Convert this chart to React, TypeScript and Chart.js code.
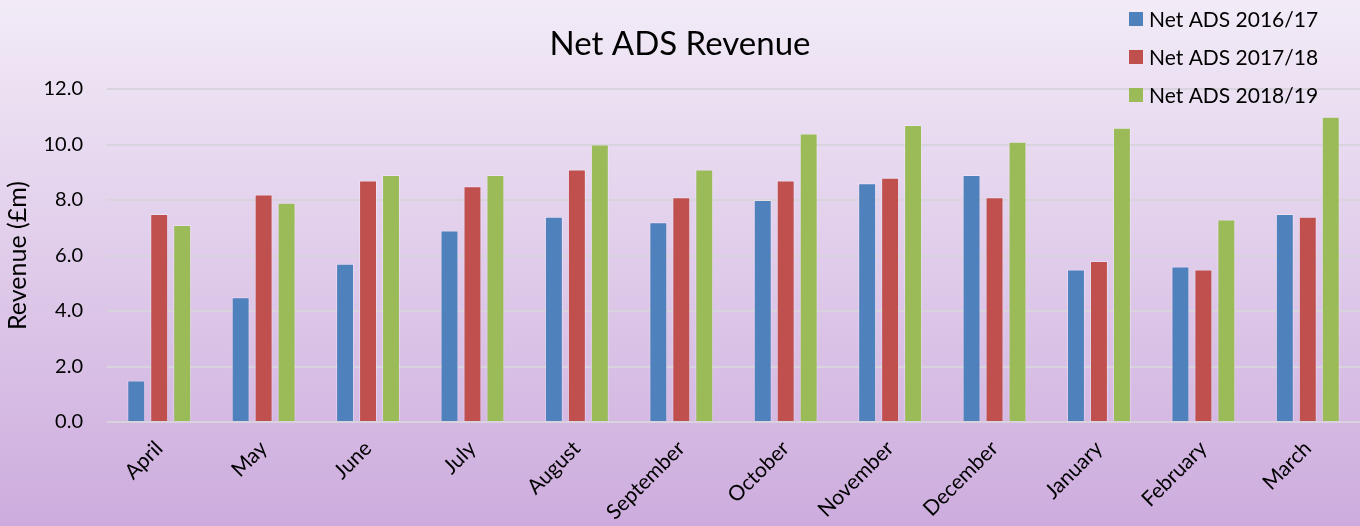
import React, { useEffect, useRef } from "react";
import { Chart, registerables } from "chart.js";

Chart.register(...registerables);

const categories = ["April", "May", "June", "July", "August", "September", "October", "November", "December", "January", "February", "March"];
const series2016 = [1.5, 4.5, 5.7, 6.9, 7.4, 7.2, 8.0, 8.6, 8.9, 5.5, 5.6, 7.5];
const series2017 = [7.5, 8.2, 8.7, 8.5, 9.1, 8.1, 8.7, 8.8, 8.1, 5.8, 5.5, 7.4];
const series2018 = [7.1, 7.9, 8.9, 8.9, 10.0, 9.1, 10.4, 10.7, 10.1, 10.6, 7.3, 11.0];
const seriesNames = ["Net ADS 2016/17", "Net ADS 2017/18", "Net ADS 2018/19"];
const seriesColors = ["#4F81BD", "#C0504D", "#9BBB59"];

const FONT = "Lato, 'Open Sans', sans-serif";

const bgPlugin = {
  id: "bgGradient",
  beforeDraw(chart: any) {
    const { ctx, width, height } = chart;
    const g = ctx.createLinearGradient(0, 0, 0, height);
    g.addColorStop(0, "#F2EBF7");
    g.addColorStop(1, "#CDACDD");
    ctx.save();
    ctx.fillStyle = g;
    ctx.fillRect(0, 0, width, height);
    ctx.restore();
  },
};

const legendPlugin = {
  id: "customLegend",
  afterDraw(chart: any) {
    const { ctx } = chart;
    ctx.save();
    ctx.font = `21px ${FONT}`;
    ctx.textBaseline = "middle";
    ctx.textAlign = "left";
    chart.data.datasets.forEach((ds: any, i: number) => {
      const cy = 19 + i * 38;
      ctx.fillStyle = ds.backgroundColor;
      ctx.fillRect(1129, cy - 7, 14, 14);
      ctx.fillStyle = "#000";
      ctx.fillText(ds.label, 1149, cy + 1);
    });
    ctx.restore();
  },
};

export default function App() {
  const ref = useRef<HTMLCanvasElement>(null);
  useEffect(() => {
    document.body.style.margin = "0";
    const datasets = [series2016, series2017, series2018].map((d, i) => ({
      label: seriesNames[i],
      data: d,
      backgroundColor: seriesColors[i],
      borderColor: "rgba(255,255,255,0.3)",
      borderWidth: 1,
      barPercentage: 0.78,
      categoryPercentage: 0.66,
    }));
    const chart = new Chart(ref.current!, {
      type: "bar",
      data: { labels: categories, datasets },
      plugins: [bgPlugin, legendPlugin],
      options: {
        responsive: false,
        animation: false,
        layout: { padding: 0 },
        plugins: {
          legend: { display: false },
          tooltip: { enabled: false },
          title: {
            display: true,
            text: "Net ADS Revenue",
            color: "#000",
            font: { size: 33, family: FONT, weight: "normal" },
            padding: { top: 25, bottom: 24.4 },
          },
        },
        scales: {
          x: {
            grid: { display: false },
            border: { display: false },
            ticks: {
              color: "#000",
              font: { size: 21, family: FONT },
              minRotation: 45,
              maxRotation: 45,
              autoSkip: false,
              padding: 6,
            },
            afterFit(scale: any) {
              scale.height = 104;
            },
          },
          y: {
            min: 0,
            max: 12,
            border: { display: false },
            grid: { color: "#D8D3DC", lineWidth: 2, drawTicks: false },
            ticks: {
              stepSize: 2,
              color: "#000",
              padding: 24,
              font: { size: 20, family: FONT },
              callback: (v: any) => Number(v).toFixed(1),
            },
            title: {
              display: true,
              text: "Revenue (£m)",
              color: "#000",
              font: { size: 25, family: FONT },
              padding: { top: 3, bottom: 0 },
            },
            afterFit(scale: any) {
              scale.width = 107;
            },
          },
        },
      },
    } as any);
    return () => chart.destroy();
  }, []);
  return (
    <div style={{ width: 1360, height: 526 }}>
      <canvas ref={ref} width={1360} height={526} style={{ display: "block" }} />
    </div>
  );
}
